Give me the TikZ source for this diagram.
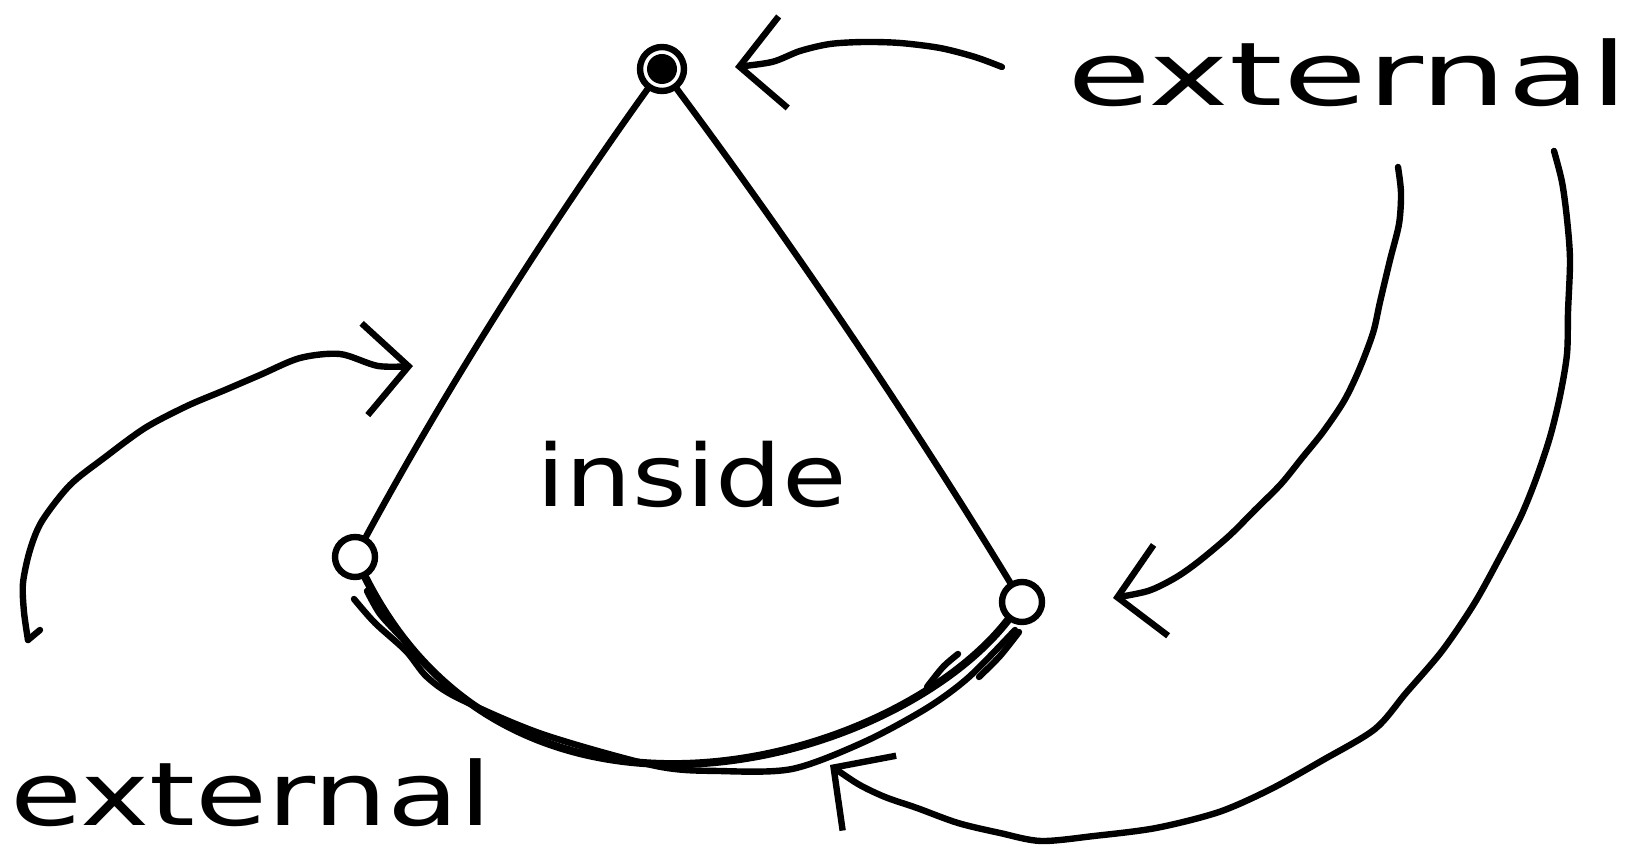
\documentclass[tikz,border=0pt]{standalone}
\usepackage{fontspec}
\setmainfont{DejaVu Sans}
\usetikzlibrary{arrows.meta}
\begin{document}
\begin{tikzpicture}[x=0.5pt,y=-0.5pt,
  ink/.style={line width=3.2pt,line cap=round,line join=round},
  vtx/.style={circle,draw,ink,minimum size=20pt,inner sep=0pt},
  arr/.style={ink,-{Straight Barb[length=22pt,width=46pt]}},
  lbl/.style={font=\fontsize{44}{44}\selectfont,inner sep=0pt,anchor=base west}]
\useasboundingbox (0,0) rectangle (1633,854);

% vertices
\node[vtx,minimum size=22pt] (top) at (662,69) {};
\fill (top.center) circle (7.5pt);
\node[vtx] (left) at (355,557) {};
\node[vtx] (right) at (1022,602) {};

% labels
\node[lbl] (ext1) at (1067,106) {\scalebox{1.55}[1]{external}};
\node[lbl] (ext2) at (10,826) {\scalebox{1.33}[1]{external}};
\node[lbl,font=\fontsize{43}{43}\selectfont] (inside) at (536,507) {\scalebox{1.22}[1]{inside}};

% triangle sides
\draw[ink] (top) .. controls (550,225) and (447,387) .. (left);
\draw[ink] (top) .. controls (790,241) and (910,418) .. (right);
% bottom side (heavy, overdrawn)
\draw[ink,line width=4pt] (left) .. controls (514,871) and (895,765) .. (right);
\draw[ink] plot[smooth] coordinates {(354,599) (375,623) (406,651) (427,677) (458,698) (542,734) (656,766) (719,771) (792,769) (864,742) (927,708) (969,677) (1015,630)};
\draw[ink] plot[smooth] coordinates {(367,591) (380,614) (401,637)};
\draw[ink] plot[smooth] coordinates {(958,654) (943,667) (927,687)};
\draw[ink] plot[smooth] coordinates {(1019,632) (1000,656) (979,677)};

% arrow end points
\coordinate (a1s) at (1002,67);  \coordinate (a1t) at (735,67);
\coordinate (a2s) at (28,640);   \coordinate (a2t) at (413,366);
\coordinate (a2h) at (40,630);
\coordinate (a3s) at (1398,167); \coordinate (a3t) at (1113,598);
\coordinate (a4s) at (1554,151); \coordinate (a4t) at (830,765);

% arrows
\draw[arr] plot[smooth] coordinates {(a1s) (975,57) (940,48) (900,43) (864,42) (830,44) (800,51) (772,62) (a1t)};
\draw[ink] (a2h) -- (a2s);
\draw[arr] plot[smooth] coordinates {(a2s) (24,612) (23,583) (30,550) (42,521) (70,485) (104,458) (145,428) (187,406) (225,390) (260,375) (300,358) (340,354) (378,366) (a2t)};
\draw[arr] plot[smooth] coordinates {(a3s) (1401,193) (1399,224) (1390,260) (1380,302) (1373,333) (1359,370) (1344,401) (1323,432) (1302,458) (1281,484) (1255,510) (1229,536) (1198,562) (1175,578) (1148,591) (a3t)};
\draw[arr] plot[smooth] coordinates {(a4s) (1562,182) (1567,219) (1570,260) (1568,312) (1567,354) (1560,396) (1550,437) (1536,479) (1521,516) (1500,557) (1474,604) (1442,651) (1406,693) (1375,729) (1323,760) (1271,789) (1219,812) (1156,828) (1094,836) (1041,841) (1000,833) (958,823) (917,808) (885,797) (858,784) (a4t)};
\end{tikzpicture}
\end{document}
